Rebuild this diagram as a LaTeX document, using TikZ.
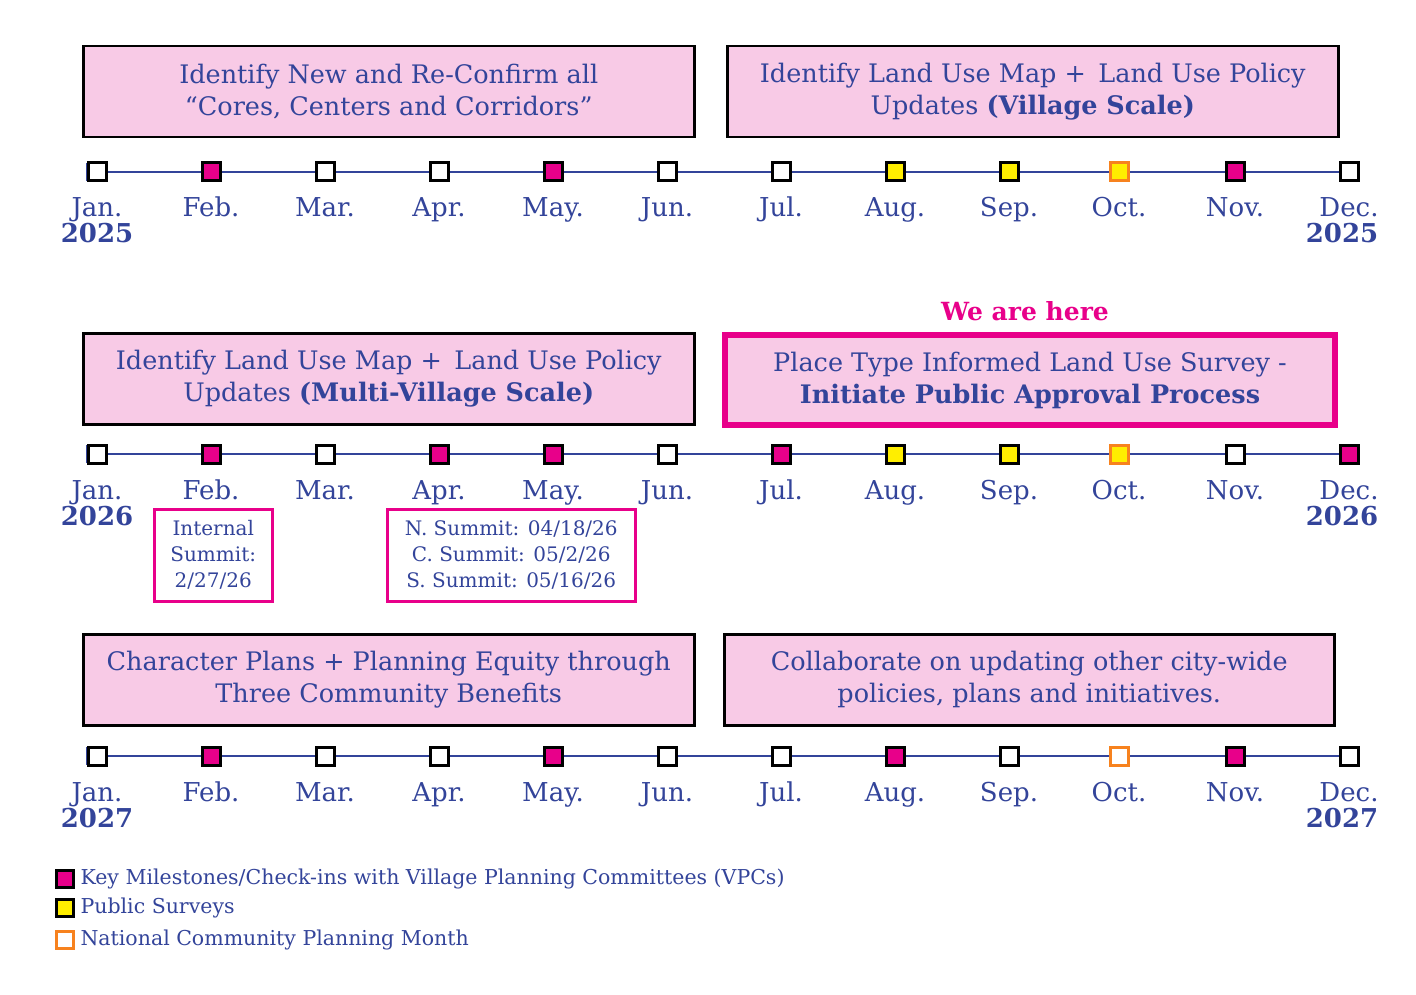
\documentclass[tikz,border=0pt]{standalone}
\usepackage{fontspec}
\setmainfont{DejaVu Serif}
\begin{document}
\begin{tikzpicture}[x=1pt,y=-1pt,
  txt/.style={text=navy},
  box/.style={draw=black,line width=2.5pt,fill=pinkf,inner sep=0,anchor=north west},
  mk/.style={draw=black,line width=3pt,minimum size=18pt,inner sep=0},
  mkw/.style={mk,fill=white}, mkm/.style={mk,fill=mag}, mky/.style={mk,fill=yel},
  mko/.style={mk,draw=orng,fill=yel}, mkow/.style={mk,draw=orng,fill=white},
  mon/.style={txt,font=\fontsize{26}{26}\selectfont,anchor=base},
  yr/.style={txt,font=\fontsize{26}{26}\selectfont\bfseries,anchor=base},
  btxt/.style={txt,font=\fontsize{25.5}{32}\selectfont,align=center},
  stxt/.style={txt,font=\fontsize{20}{26}\selectfont,align=center},
  ltxt/.style={txt,font=\fontsize{20.5}{20}\selectfont,anchor=west},
  sbox/.style={draw=mag,line width=2.5pt,inner sep=0,anchor=north west}]
\definecolor{navy}{HTML}{33449A}
\definecolor{pinkf}{HTML}{F8CAE6}
\definecolor{mag}{HTML}{E8008A}
\definecolor{yel}{HTML}{FFEE00}
\definecolor{orng}{HTML}{F7821E}
\useasboundingbox (0,0) rectangle (1416,995);
% boxes
\node[box,minimum width=611pt,minimum height=91pt] (b1) at (82,45) {};
\node[btxt] at (b1.center) {Identify New and Re-Confirm all\\“Cores, Centers and Corridors”};
\node[box,minimum width=611pt,minimum height=91pt] (b2) at (726,45) {};
\node[btxt] at (b2.center) {Identify Land Use Map +\, Land Use Policy\\Updates \textbf{(Village Scale)}};
\node[box,minimum width=611pt,minimum height=91pt] (b3) at (82,332) {};
\node[btxt] at (b3.center) {Identify Land Use Map +\, Land Use Policy\\Updates \textbf{(Multi-Village Scale)}};
\node[box,draw=mag,line width=6pt,minimum width=610pt,minimum height=90pt] (b4) at (722,332) {};
\node[btxt] at (b4.center) {Place Type Informed Land Use Survey -\\\textbf{Initiate Public Approval Process}};
\node[txt,text=mag,font=\fontsize{25}{25}\selectfont\bfseries] (here) at (1025,311) {We are here};
\node[box,minimum width=611pt,minimum height=91pt] (b5) at (82,633) {};
\node[btxt] at (b5.center) {Character Plans + Planning Equity through\\Three Community Benefits};
\node[box,minimum width=610pt,minimum height=91pt] (b6) at (723,633) {};
\node[btxt] at (b6.center) {Collaborate on updating other city-wide\\policies, plans and initiatives.};
% timelines
\def\xs{97,211,325,439,553,667,781,895,1009,1119,1235,1349}
\foreach \r/\ly/\yr/\marks in {1/172/2025/{mkw,mkm,mkw,mkw,mkm,mkw,mkw,mky,mky,mko,mkm,mkw},2/454/2026/{mkw,mkm,mkw,mkm,mkm,mkw,mkm,mky,mky,mko,mkw,mkm},3/756/2027/{mkw,mkm,mkw,mkw,mkm,mkw,mkw,mkm,mkw,mkow,mkm,mkw}}{
  \coordinate (s\r) at (87,\ly); \coordinate (e\r) at (1349,\ly);
  \draw[navy,line width=2.5pt] (s\r) -- (e\r);
  \draw[navy,line width=3pt] (87,\ly-9) -- (87,\ly+9);
  \foreach \x [count=\i] in \xs {
    \foreach \s [count=\j] in \marks { \ifnum\i=\j \node[\s] (m\r-\i) at (\x,\ly) {}; \fi }
  }
  \foreach \x/\t in {97/Jan.,211/Feb.,325/Mar.,439/Apr.,553/May.,667/Jun.,781/Jul.,895/Aug.,1009/Sep.,1119/Oct.,1235/Nov.,1349/Dec.}
    \node[mon] at (\x,\ly+45) {\t};
  \node[yr] at (97,\ly+71) {\yr};
  \node[yr] at (1342,\ly+71) {\yr};
}
% small boxes
\node[sbox,minimum width=118pt,minimum height=92pt] (sb1) at (153,508) {};
\node[stxt] at (sb1.center) {Internal\\Summit:\\2/27/26};
\node[sbox,minimum width=248pt,minimum height=92pt] (sb2) at (386,508) {};
\node[stxt] at (sb2.center) {N. Summit: 04/18/26\\C. Summit: 05/2/26\\S. Summit: 05/16/26};
% legend
\node[mkm,minimum size=17pt] (l1) at (65,879) {};
\node[ltxt] at (77,879) {Key Milestones/Check-ins with Village Planning Committees (VPCs)};
\node[mky,minimum size=17pt] (l2) at (65,908) {};
\node[ltxt] at (77,908) {Public Surveys};
\node[mkow,minimum size=17pt] (l3) at (65,940) {};
\node[ltxt] at (77,940) {National Community Planning Month};
\end{tikzpicture}
\end{document}
